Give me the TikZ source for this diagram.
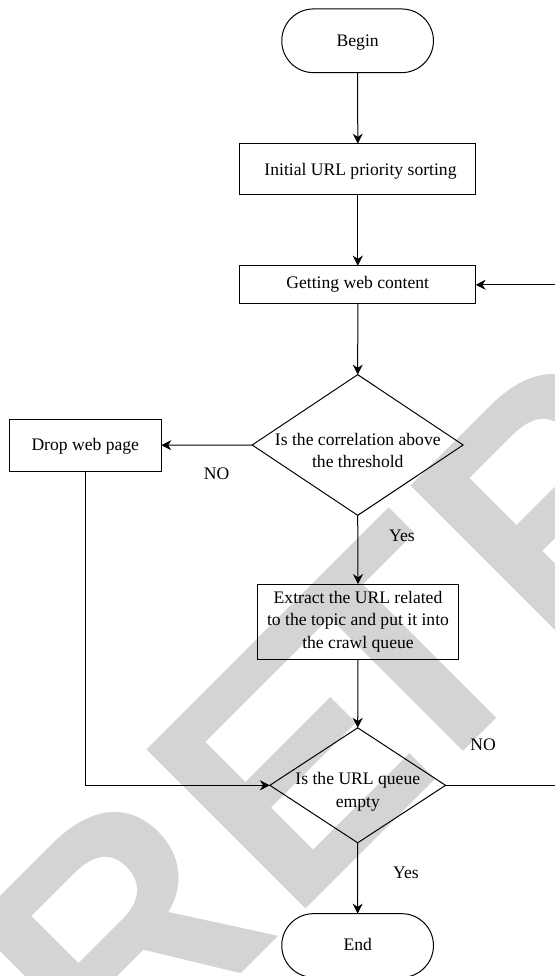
\documentclass[tikz,border=0pt]{standalone}
\usepackage{fontspec}
\setmainfont{Liberation Serif}
\newfontfamily\wmfont{Liberation Sans}
\usetikzlibrary{arrows.meta,shapes.geometric}
\definecolor{wmgray}{RGB}{212,212,212}
\begin{document}
\begin{tikzpicture}[x=1pt,y=-1pt,
  every node/.style={inner sep=0pt, outer sep=0pt},
  txt/.style={font=\fontsize{17.6}{22.6}\selectfont, align=center},
  wmletter/.style={anchor=base west, rotate=45, text=wmgray, font=\wmfont\bfseries\fontsize{327}{327}\selectfont},
  line/.style={line width=1pt, draw=black},
  arr/.style={line, -{Stealth[length=10pt,width=10pt]}},
  term/.style={draw, line width=1pt, rounded corners=31.8pt, minimum width=151.7pt, minimum height=63.7pt},
  procbox/.style={draw, line width=1pt},
  decision/.style={draw, line width=1pt, shape=diamond}
]
\useasboundingbox (0,0) rectangle (554,976);
% watermark (letters of RETRACTED, cut by the page)
\node[wmletter] (wm1) at (116,1098) {R};
\node[wmletter] (wm2) at (290,924) {E};
\node[wmletter] (wm3) at (409,805) {T};
\node[wmletter] (wm4) at (554,660) {R};

% shapes
\node[term] (begin) at (357.6,40.8) {};
\node[procbox, minimum width=235.7pt, minimum height=51.3pt] (sort) at (357.8,169.3) {};
\node[procbox, minimum width=235.7pt, minimum height=38.3pt] (get) at (357.8,284.8) {};
\node[decision, minimum width=211pt, minimum height=140.7pt] (corr) at (357.7,445) {};
\node[procbox, minimum width=152pt, minimum height=51.7pt] (drop) at (85.3,445.2) {};
\node[procbox, minimum width=200.7pt, minimum height=75.3pt] (extract) at (358,621.7) {};
\node[decision, minimum width=175.7pt, minimum height=115pt] (empty) at (357.7,785.3) {};
\node[term] (end) at (357.6,945.5) {};

% texts
\node[txt, anchor=base] (tbegin) at (357.7,46.7) {Begin};
\node[txt, anchor=base] (tsort) at (360.5,175.7) {Initial URL priority sorting};
\node[txt, anchor=base] (tget) at (357.7,288.7) {Getting web content};
\node[txt] (tcorr) at (357.8,450.4) {Is the correlation above\\the threshold};
\node[txt, anchor=base] (tdrop) at (85.3,450) {Drop web page};
\node[txt] (textract) at (358,621.6) {Extract the URL related\\to the topic and put it into\\the crawl queue};
\node[txt] (tempty) at (357.8,792) {Is the URL queue\\empty};
\node[txt, anchor=base] (tend) at (357.7,950) {End};

% labels
\node[txt, anchor=base] (no1) at (216.7,479.3) {NO};
\node[txt, anchor=base] (yes1) at (402,541.7) {Yes};
\node[txt, anchor=base] (no2) at (483.2,750.3) {NO};
\node[txt, anchor=base] (yes2) at (406,878.3) {Yes};

% connectors
\draw[arr] (begin.south) -- (sort.north);
\draw[arr] (sort.south) -- (get.north);
\draw[arr] (get.south) -- (corr.north);
\draw[arr] (corr.west) -- (drop.east);
\draw[arr] (corr.south) -- (extract.north);
\draw[arr] (extract.south) -- (empty.north);
\draw[arr] (drop.south) |- (empty.west);
\draw[arr] (empty.south) -- (end.north);
\coordinate (loop) at (558,785.3);
\draw[arr] (empty.east) -- (loop) |- (get.east);
\end{tikzpicture}
\end{document}
